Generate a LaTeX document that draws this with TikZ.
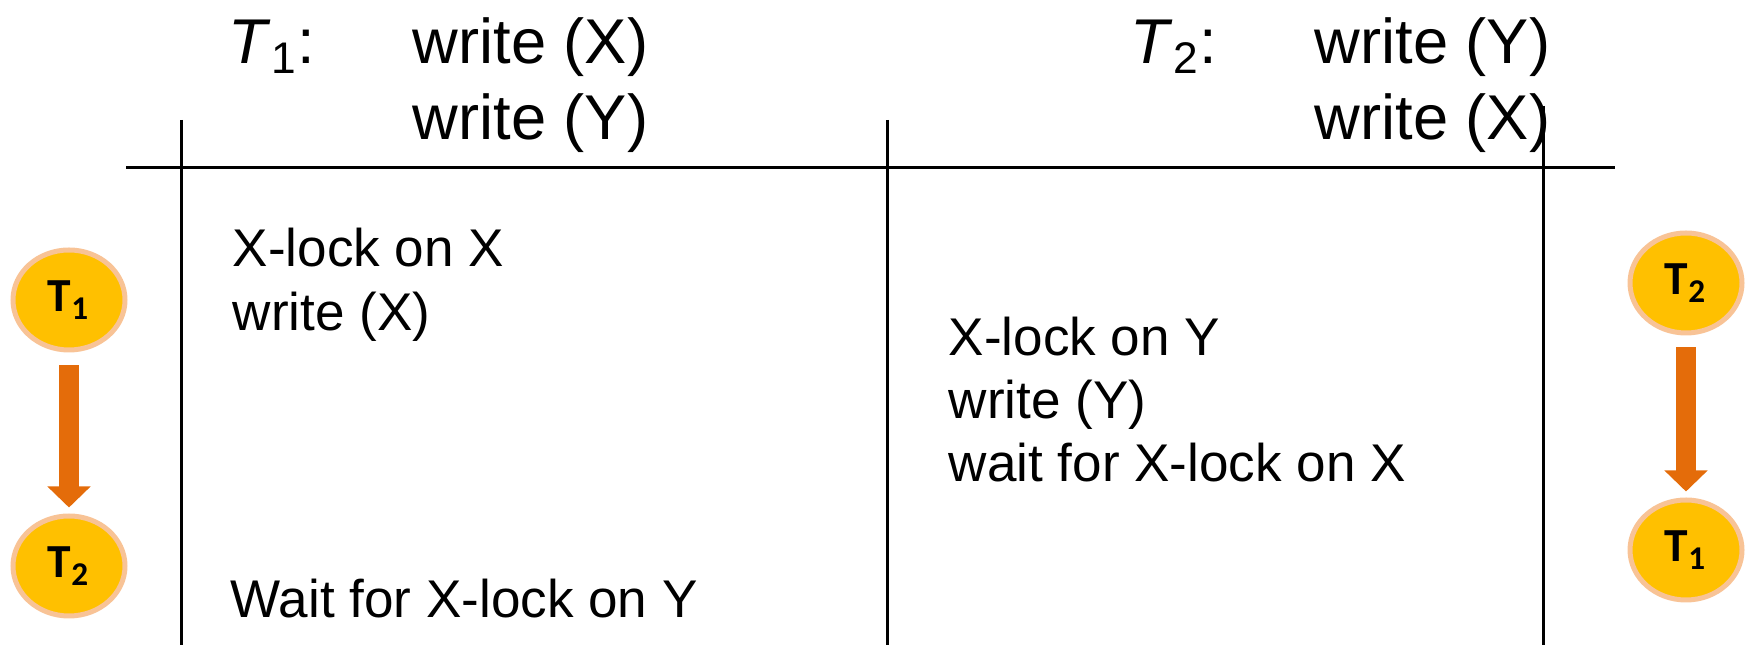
\documentclass[tikz,border=0pt]{standalone}
\usepackage{fontspec}
\setmainfont{Liberation Sans}
\newfontfamily\calibri{Carlito}
\usepackage{tikz}
\usetikzlibrary{arrows.meta,positioning,shapes.geometric}
\definecolor{gold}{HTML}{FFC000}
\definecolor{peach}{HTML}{F8C396}
\definecolor{rust}{HTML}{E46C0A}

\tikzset{
  hdr/.style={anchor=base west,inner sep=0pt,font=\fontsize{18}{21}\selectfont},
  stmt/.style={anchor=base west,inner sep=0pt,font=\fontsize{15.1}{18}\selectfont},
  txn/.style={ellipse,draw=peach,line width=0.5mm,fill=gold,minimum width=1.12cm,
    minimum height=1.0cm,inner sep=0pt,font=\calibri\bfseries\fontsize{13.5}{15}\selectfont},
  waits/.style={draw=rust,line width=2mm,-{Triangle[width=4.2mm,length=2.1mm]}},
  rule/.style={line width=0.3mm}
}

\begin{document}
\begin{tikzpicture}
  \useasboundingbox (0,0) rectangle (17.46,-6.45);

  % schedule header
  \node[hdr] (t1) at (2.28,-0.64) {\textit{T}\textsubscript{1}:};
  \node[hdr] (t1a) at (4.12,-0.64) {write (X)};
  \node[hdr] (t1b) at (4.12,-1.40) {write (Y)};
  \node[hdr] (t2) at (11.30,-0.64) {\textit{T}\textsubscript{2}:};
  \node[hdr] (t2a) at (13.14,-0.64) {write (Y)};
  \node[hdr] (t2b) at (13.14,-1.40) {write (X)};

  % table rules
  \draw[rule] (1.26,-1.68) -- (16.15,-1.68);
  \draw[rule] (1.81,-1.20) -- (1.81,-6.45);
  \draw[rule] (8.87,-1.20) -- (8.87,-6.45);
  \draw[rule] (15.43,-1.06) -- (15.43,-6.45);

  % T1 column
  \node[stmt] (l1) at (2.32,-2.67) {X-lock on X};
  \node[stmt] (l2) at (2.32,-3.31) {write (X)};
  \node[stmt] (l3) at (2.30,-6.18) {Wait for X-lock on Y};

  % T2 column
  \node[stmt] (m1) at (9.48,-3.56) {X-lock on Y};
  \node[stmt] (m2) at (9.48,-4.19) {write (Y)};
  \node[stmt] (m3) at (9.48,-4.82) {wait for X-lock on X};

  % wait-for graphs
  \node[txn] (lt1) at (0.69,-3.00) {T\textsubscript{1}};
  \node[txn] (lt2) at (0.69,-5.66) {T\textsubscript{2}};
  \draw[waits,shorten <=1.3mm,shorten >=0.6mm] (lt1) -- (lt2);

  \node[txn] (rt2) at (16.86,-2.83) {T\textsubscript{2}};
  \node[txn] (rt1) at (16.86,-5.50) {T\textsubscript{1}};
  \draw[waits,shorten <=1.2mm,shorten >=0.6mm] (rt2) -- (rt1);
\end{tikzpicture}
\end{document}
